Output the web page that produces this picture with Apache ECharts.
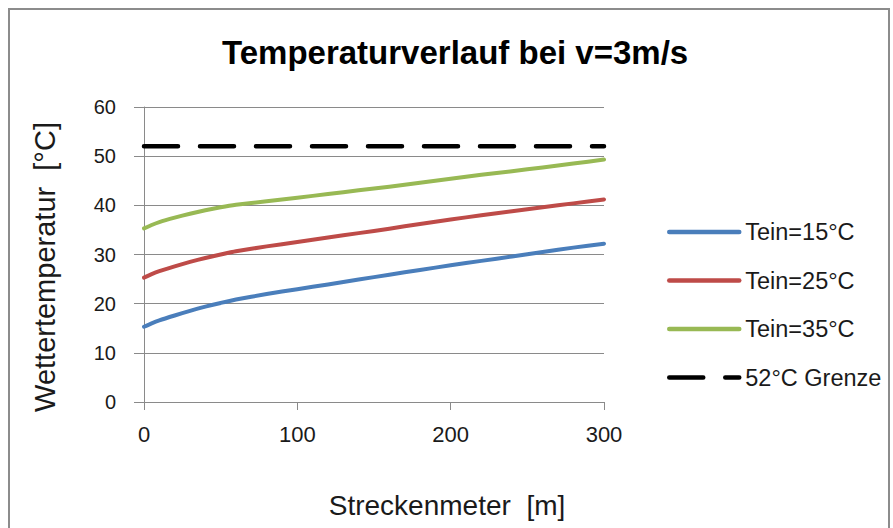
<!DOCTYPE html>
<html>
<head>
<meta charset="utf-8">
<title>Temperaturverlauf bei v=3m/s</title>
<script src="https://cdn.jsdelivr.net/npm/echarts@6/dist/echarts.min.js"></script>
<style>
  html, body { margin: 0; padding: 0; background: #ffffff; }
  #chart { width: 893px; height: 528px; }
</style>
</head>
<body>
<div id="chart"></div>
<script>
// Streckenmeter [m]
const distances = [0, 5, 10, 20, 30, 40, 50, 60, 80, 100, 120, 140, 160, 180, 200, 220, 240, 260, 280, 300];
// Wettertemperatur [°C] je Eintrittstemperatur
const tein15 = [15.3, 16.0, 16.6, 17.6, 18.55, 19.4, 20.15, 20.85, 21.95, 22.95, 23.9, 24.9, 25.9, 26.85, 27.8, 28.7, 29.6, 30.5, 31.4, 32.2];
const tein25 = [25.3, 26.0, 26.6, 27.6, 28.5, 29.3, 30.0, 30.65, 31.65, 32.55, 33.45, 34.35, 35.25, 36.2, 37.1, 38.0, 38.8, 39.6, 40.4, 41.2];
const tein35 = [35.3, 36.0, 36.6, 37.5, 38.3, 39.0, 39.6, 40.1, 40.85, 41.55, 42.3, 43.05, 43.8, 44.6, 45.4, 46.2, 46.95, 47.7, 48.5, 49.3];
// Grenzwert
const limitDistances = [0, 300];
const limitValue = 52;

const seriesNames = ['Tein=15°C', 'Tein=25°C', 'Tein=35°C', '52°C Grenze'];
const seriesColors = ['#4A7EBB', '#BE4B48', '#98B954', '#000000'];

const FONT = 'Liberation Sans, Arial, sans-serif';
const pairs = (xs, ys) => xs.map((x, i) => [x, ys[i]]);

const curve = (name, values, color) => ({
  name: name,
  type: 'line',
  data: pairs(distances, values),
  symbol: 'none',
  smooth: 0.2,
  lineStyle: { color: color, width: 4, cap: 'round', join: 'round' },
  itemStyle: { color: color },
  z: 3
});

const chart = echarts.init(document.getElementById('chart'), null, { renderer: 'svg' });

chart.setOption({
  animation: false,
  backgroundColor: '#ffffff',
  title: {
    text: 'Temperaturverlauf bei v=3m/s',
    left: 217,
    top: 31,
    textStyle: { fontFamily: FONT, fontSize: 33, fontWeight: 'bold', color: '#000000' }
  },
  grid: { left: 144, right: 289, top: 107, bottom: 126, containLabel: false },
  xAxis: {
    type: 'value',
    min: 0, max: 300, interval: 100,
    axisLine: { show: true, lineStyle: { color: '#8a8a8a', width: 1 } },
    axisTick: { show: true, length: 8, lineStyle: { color: '#8a8a8a' } },
    splitLine: { show: false },
    axisLabel: { margin: 21, fontFamily: FONT, fontSize: 22, color: '#1a1a1a' }
  },
  yAxis: {
    type: 'value',
    min: 0, max: 60, interval: 10,
    axisLine: { show: true, lineStyle: { color: '#8a8a8a', width: 1 } },
    axisTick: { show: true, length: 10, lineStyle: { color: '#8a8a8a' } },
    splitLine: { show: true, lineStyle: { color: '#8a8a8a', width: 1 } },
    axisLabel: { margin: 28, fontFamily: FONT, fontSize: 20, color: '#1a1a1a' }
  },
  legend: {
    orient: 'vertical',
    left: 667,
    top: 220,
    padding: 0,
    itemWidth: 70,
    itemHeight: 14,
    itemGap: 24.5,
    data: seriesNames,
    itemStyle: { opacity: 0 },
    lineStyle: { width: 4.5, cap: 'round' },
    textStyle: { fontFamily: FONT, fontSize: 23.5, color: '#1a1a1a', padding: [0, 0, 0, 1] }
  },
  graphic: [
    {
      type: 'rect', silent: true, z: -10,
      shape: { x: 9, y: 9, width: 880, height: 560 },
      style: { fill: 'none', stroke: '#8c8c8c', lineWidth: 2 }
    },
    {
      type: 'text', silent: true,
      x: 447, y: 505,
      style: {
        text: 'Streckenmeter  [m]', fontFamily: FONT, fontSize: 28, fill: '#1a1a1a',
        textAlign: 'center', textVerticalAlign: 'middle'
      }
    },
    {
      type: 'text', silent: true,
      x: 45, y: 267, rotation: Math.PI / 2,
      style: {
        text: 'Wettertemperatur  [°C]', fontFamily: FONT, fontSize: 29, fill: '#1a1a1a',
        textAlign: 'center', textVerticalAlign: 'middle'
      }
    }
  ],
  series: [
    curve(seriesNames[0], tein15, seriesColors[0]),
    curve(seriesNames[1], tein25, seriesColors[1]),
    curve(seriesNames[2], tein35, seriesColors[2]),
    {
      name: seriesNames[3],
      type: 'line',
      data: limitDistances.map(x => [x, limitValue]),
      symbol: 'none',
      lineStyle: { color: seriesColors[3], width: 4.5, type: [34, 22], cap: 'round' },
      itemStyle: { color: seriesColors[3] },
      z: 4
    }
  ]
});
</script>
</body>
</html>
